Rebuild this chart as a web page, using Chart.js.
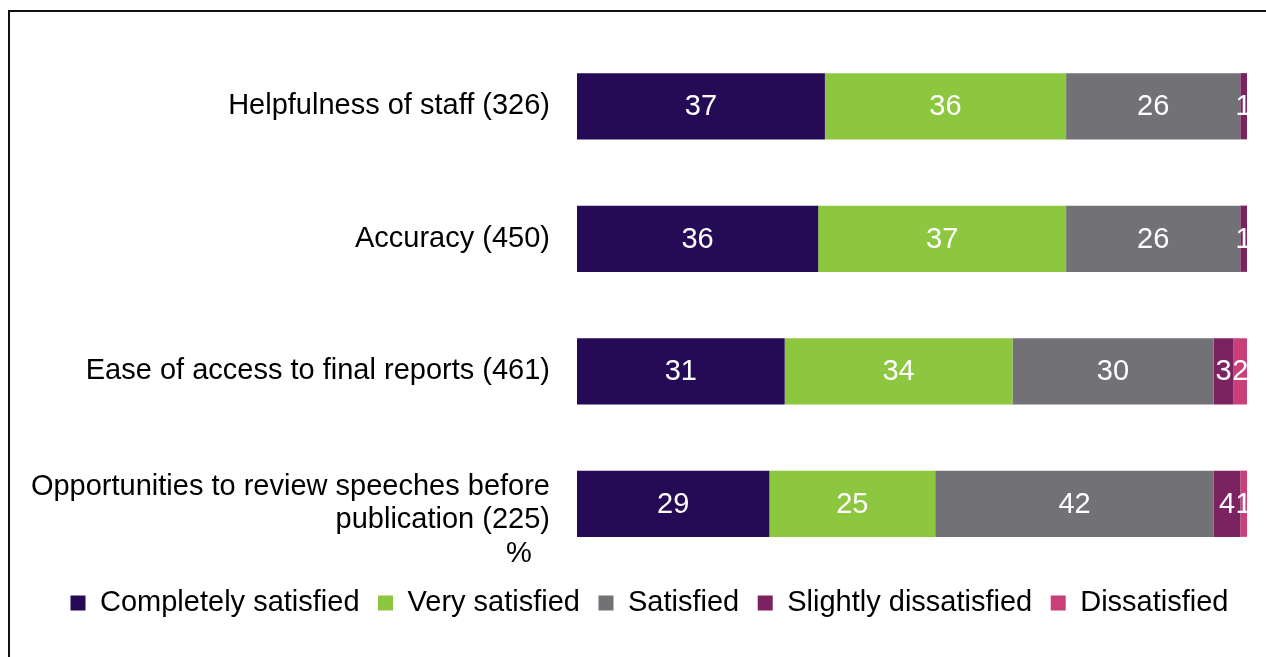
<!DOCTYPE html>
<html>
<head>
<meta charset="utf-8">
<script src="https://cdn.jsdelivr.net/npm/chart.js@4"></script>
<style>
    html, body { margin: 0; padding: 0; background: #fff; }
    #wrap { position: relative; width: 1266px; height: 657px; overflow: hidden; }
    #frame {
        position: absolute; left: 8px; top: 10px; right: -10px; bottom: -10px;
        border-left: 2px solid #111; border-top: 2px solid #111;
    }
    canvas { position: absolute; left: 0; top: 0; }
</style>
</head>
<body>
<div id="wrap">
    <div id="frame"></div>
    <canvas id="chart" width="1266" height="657"></canvas>
</div>
<script>
const categories = [
    "Helpfulness of staff (326)",
    "Accuracy (450)",
    "Ease of access to final reports (461)",
    ["Opportunities to review speeches before", "publication (225)"],
];
const seriesNames = [
    "Completely satisfied",
    "Very satisfied",
    "Satisfied",
    "Slightly dissatisfied",
    "Dissatisfied",
];
const completelySatisfied = [37, 36, 31, 29];
const verySatisfied = [36, 37, 34, 25];
const satisfied = [26, 26, 30, 42];
const slightlyDissatisfied = [1, 1, 3, 4];
const dissatisfied = [0, 0, 2, 1];

const seriesColors = ["#250a55", "#8dc63f", "#727175", "#7b2361", "#c94079"];
const FONT = "'Liberation Sans', Arial, sans-serif";

const rawSeries = [completelySatisfied, verySatisfied, satisfied, slightlyDissatisfied, dissatisfied];

// bars are drawn as 100% stacks, so rows whose rounded values add to 101 still fill the width
const rowTotals = categories.map((_, i) =>
    rawSeries.reduce((sum, s) => sum + s[i], 0),
);

const datasets = rawSeries.map((values, k) => ({
    label: seriesNames[k],
    data: values.map((v, i) => (v / rowTotals[i]) * 100),
    raw: values,
    backgroundColor: seriesColors[k],
    borderWidth: 0,
    barPercentage: 1,
    categoryPercentage: 0.5,
}));

const segmentLabels = {
    id: "segment-labels",
    afterDatasetsDraw(chart) {
        const { ctx } = chart;
        ctx.save();
        ctx.font = `29px ${FONT}`;
        ctx.fillStyle = "#ffffff";
        ctx.textAlign = "center";
        ctx.textBaseline = "middle";
        chart.data.datasets.forEach((ds, k) => {
            const meta = chart.getDatasetMeta(k);
            meta.data.forEach((bar, i) => {
                const value = ds.raw[i];
                if (!value) {
                    return;
                }
                const cx = (bar.base + bar.x) / 2;
                ctx.fillText(String(value), cx, bar.y + 1);
            });
        });
        ctx.restore();
    },
};

const percentLabel = {
    id: "percent-label",
    afterDraw(chart) {
        const { ctx, chartArea } = chart;
        ctx.save();
        ctx.font = `29px ${FONT}`;
        ctx.fillStyle = "#000";
        ctx.textAlign = "center";
        ctx.textBaseline = "middle";
        ctx.fillText("%", chartArea.left - 58, chartArea.bottom - 16);
        ctx.restore();
    },
};

// the legend in the original sits a little right of the canvas centre
const legendShift = {
    id: "legend-shift",
    afterLayout(chart) {
        if (chart.legend) {
            chart.legend.left += 26;
            chart.legend.right += 26;
        }
    },
};

new Chart(document.getElementById("chart"), {
    type: "bar",
    data: { labels: categories, datasets },
    options: {
        indexAxis: "y",
        responsive: false,
        animation: false,
        layout: { padding: { top: 40, right: 19, bottom: 29.5, left: 0 } },
        plugins: {
            legend: {
                position: "bottom",
                labels: {
                    color: "#000",
                    font: { family: FONT, size: 29 },
                    boxWidth: 15,
                    boxHeight: 15,
                    padding: 18.5,
                },
            },
            tooltip: { enabled: false },
        },
        scales: {
            x: {
                stacked: true,
                min: 0,
                max: 100,
                display: false,
            },
            y: {
                stacked: true,
                grid: { display: false, drawTicks: false },
                border: { display: false },
                afterFit: (scale) => {
                    scale.width = 577;
                    scale.paddingTop = 0;
                    scale.paddingBottom = 0;
                },
                ticks: {
                    color: "#000",
                    padding: 27,
                    font: { family: FONT, size: 29, lineHeight: 1.15 },
                },
            },
        },
    },
    plugins: [segmentLabels, percentLabel, legendShift],
});
</script>
</body>
</html>
